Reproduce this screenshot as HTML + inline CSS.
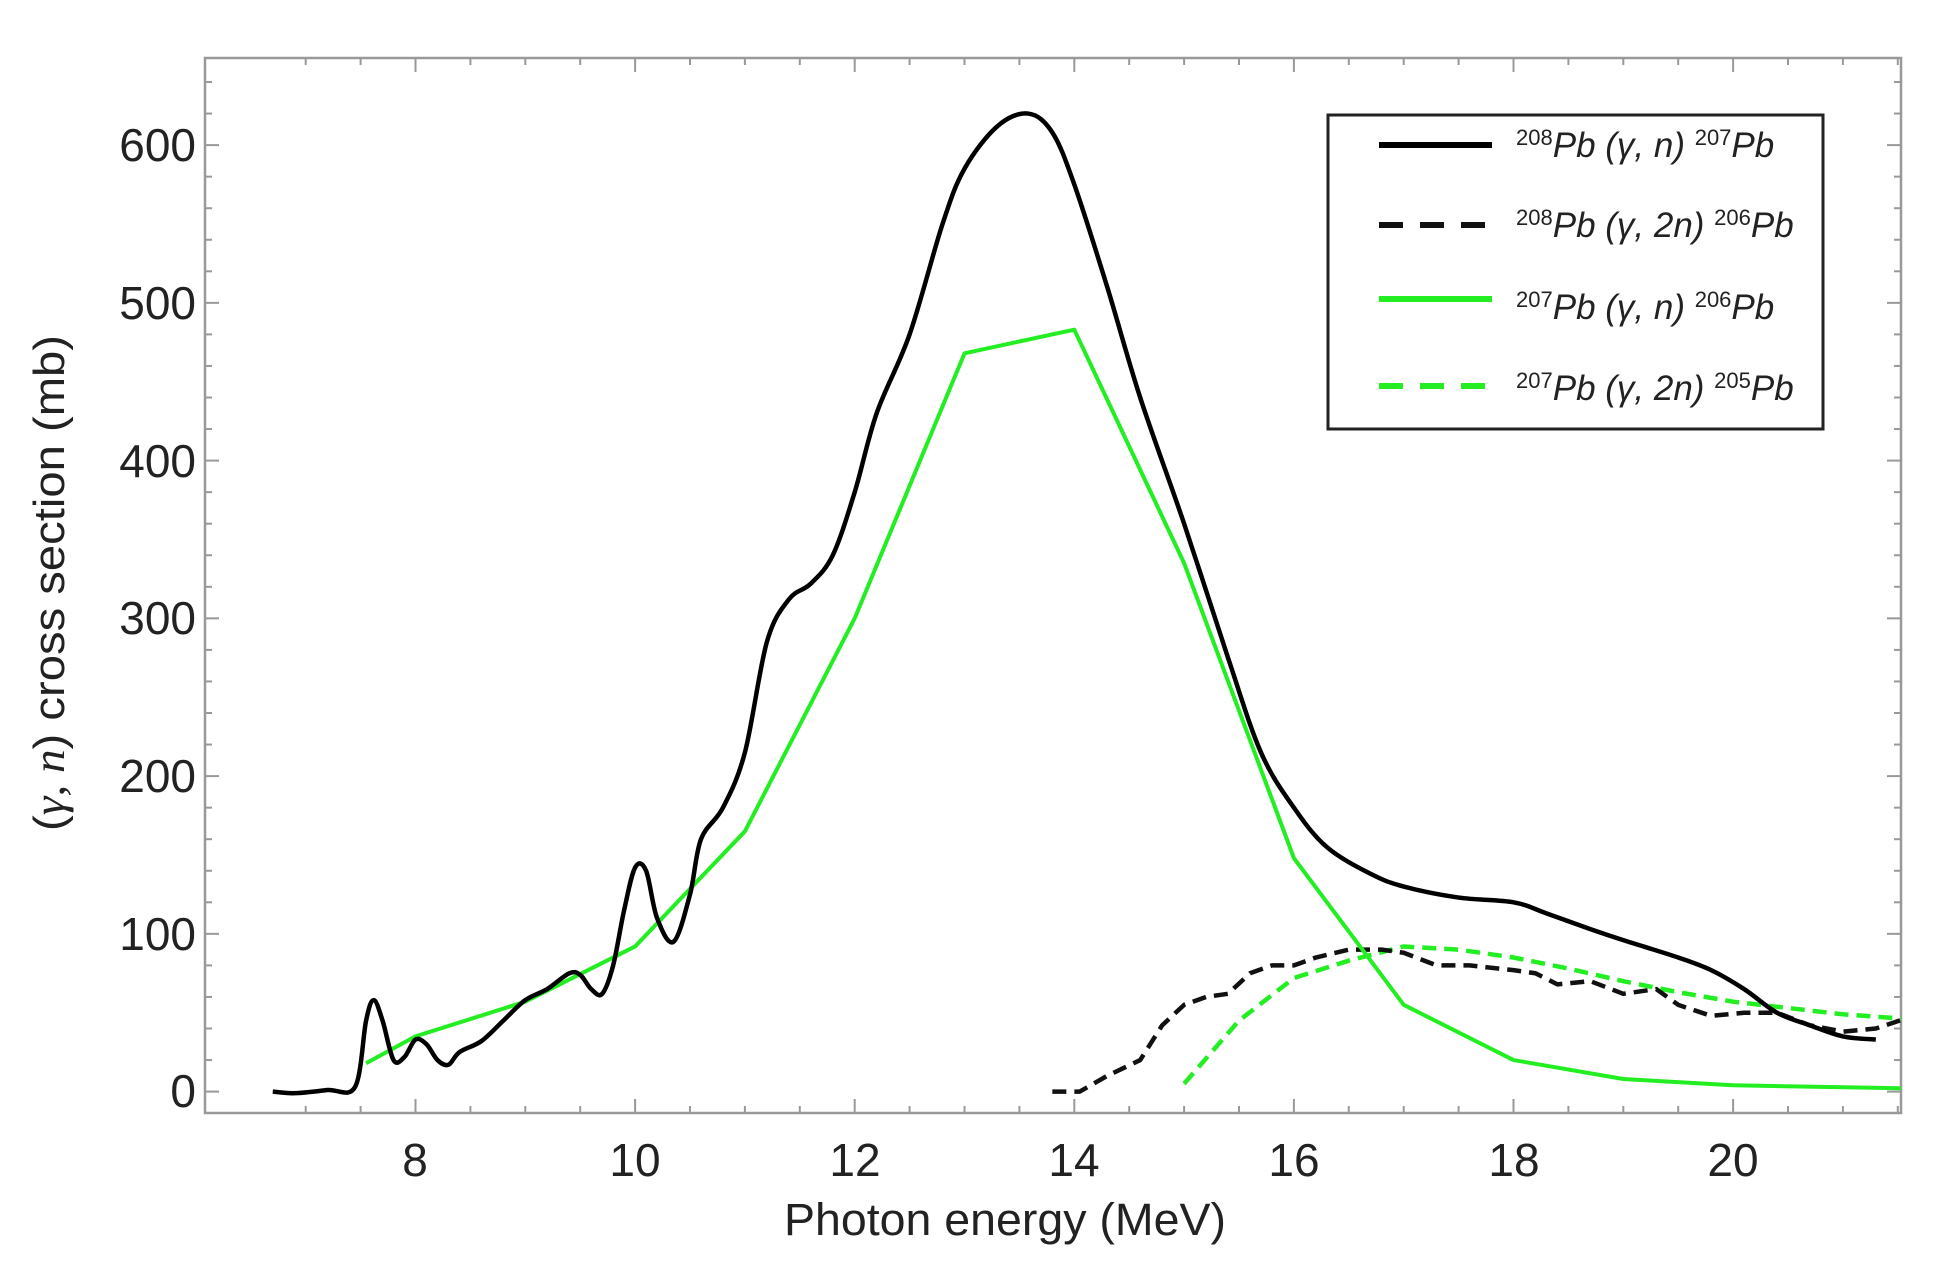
<!DOCTYPE html>
<html><head><meta charset="utf-8"><style>
body{margin:0;background:#fff;}
svg text{font-family:"Liberation Sans",sans-serif;}
</style></head><body>
<svg id="s" width="1945" height="1271" xmlns="http://www.w3.org/2000/svg">
<defs><clipPath id="c"><rect x="205" y="58" width="1696" height="1055"/></clipPath></defs>
<rect x="205" y="58" width="1696" height="1055" fill="none" stroke="#999" stroke-width="2.5"/>
<g id="ticks" stroke="#999" stroke-width="2"></g>
<g font-size="46" text-anchor="end" fill="#222">
<text x="196" y="1107">0</text><text x="196" y="950">100</text><text x="196" y="792">200</text>
<text x="196" y="634">300</text><text x="196" y="477">400</text><text x="196" y="319">500</text><text x="196" y="161">600</text>
</g>
<g font-size="46" text-anchor="middle" fill="#222">
<text x="415" y="1176">8</text><text x="635" y="1176">10</text><text x="855" y="1176">12</text>
<text x="1074" y="1176">14</text><text x="1294" y="1176">16</text><text x="1514" y="1176">18</text><text x="1733" y="1176">20</text>
</g>
<text x="1005" y="1235" font-size="45" text-anchor="middle" fill="#222" textLength="442" lengthAdjust="spacingAndGlyphs">Photon energy (MeV)</text>
<text transform="translate(64,583) rotate(-90)" font-size="44" text-anchor="middle" fill="#222" textLength="496" lengthAdjust="spacingAndGlyphs">(<tspan font-family="Liberation Serif" font-style="italic">γ, n</tspan>) cross section (mb)</text>
<g id="data" clip-path="url(#c)" fill="none"></g>
<rect x="1328" y="115" width="495" height="314" fill="#fff" stroke="#222" stroke-width="3"/>
<g stroke-width="6">
<line x1="1379" y1="145" x2="1492" y2="145" stroke="#000"/>
<line x1="1379" y1="225" x2="1492" y2="225" stroke="#111" stroke-dasharray="24,17"/>
<line x1="1379" y1="299" x2="1492" y2="299" stroke="#22ee22"/>
<line x1="1379" y1="386" x2="1492" y2="386" stroke="#22ee22" stroke-dasharray="24,17"/>
</g>
<g font-family="Liberation Serif" font-size="35" fill="#222" font-style="italic">
<text x="1516" y="157"><tspan font-size="22" dy="-12" font-style="normal">208</tspan><tspan dy="12">Pb (γ, n) </tspan><tspan font-size="22" dy="-12" font-style="normal">207</tspan><tspan dy="12">Pb</tspan></text>
<text x="1516" y="237"><tspan font-size="22" dy="-12" font-style="normal">208</tspan><tspan dy="12">Pb (γ, 2n) </tspan><tspan font-size="22" dy="-12" font-style="normal">206</tspan><tspan dy="12">Pb</tspan></text>
<text x="1516" y="319"><tspan font-size="22" dy="-12" font-style="normal">207</tspan><tspan dy="12">Pb (γ, n) </tspan><tspan font-size="22" dy="-12" font-style="normal">206</tspan><tspan dy="12">Pb</tspan></text>
<text x="1516" y="400"><tspan font-size="22" dy="-12" font-style="normal">207</tspan><tspan dy="12">Pb (γ, 2n) </tspan><tspan font-size="22" dy="-12" font-style="normal">205</tspan><tspan dy="12">Pb</tspan></text>
</g>
</svg>
<script>
var X=function(e){return 415.5+(e-8)*109.8},Y=function(v){return 1091.6-v*1.5775};
var NS="http://www.w3.org/2000/svg";
function smooth(d){var p=d.map(function(a){return [X(a[0]),Y(a[1])]});var s="M"+p[0];
for(var i=0;i<p.length-1;i++){var p0=p[i-1]||p[i],p1=p[i],p2=p[i+1],p3=p[i+2]||p2;
s+=" C"+(p1[0]+(p2[0]-p0[0])/6)+","+(p1[1]+(p2[1]-p0[1])/6)+" "+(p2[0]-(p3[0]-p1[0])/6)+","+(p2[1]-(p3[1]-p1[1])/6)+" "+p2;}return s;}
function poly(d){return "M"+d.map(function(a){return X(a[0])+","+Y(a[1])}).join(" L");}
function add(dp,col,w,dash){var e=document.createElementNS(NS,"path");e.setAttribute("d",dp);e.setAttribute("stroke",col);e.setAttribute("stroke-width",w);e.setAttribute("stroke-linejoin","round");if(dash)e.setAttribute("stroke-dasharray",dash);document.getElementById("data").appendChild(e);}
var bk=[[6.7,0],[6.9,-1],[7.2,1],[7.45,3],[7.55,45],[7.62,58],[7.7,45],[7.8,20],[7.9,22],[8.0,33],[8.1,30],[8.2,20],[8.3,17],[8.4,25],[8.6,32],[8.8,45],[9.0,58],[9.2,65],[9.4,75],[9.5,74],[9.6,65],[9.7,62],[9.8,80],[9.9,115],[10.0,142],[10.1,140],[10.2,110],[10.35,95],[10.5,125],[10.6,160],[10.8,180],[11.0,215],[11.2,285],[11.4,312],[11.6,322],[11.8,340],[12.0,380],[12.2,430],[12.5,480],[12.8,550],[13.0,585],[13.3,612],[13.58,620],[13.8,608],[14.0,575],[14.3,510],[14.6,440],[15.0,360],[15.4,275],[15.7,215],[16.0,180],[16.3,155],[16.7,138],[17.0,130],[17.5,123],[18.0,120],[18.3,113],[18.7,103],[19.0,96],[19.5,85],[19.8,77],[20.1,65],[20.4,50],[20.7,42],[21.0,35],[21.3,33]];
var gs=[[7.55,18],[8.0,35],[9.0,57],[10,92],[11,165],[12,300],[13,468],[14,483],[15,335],[16,148],[17,55],[18,20],[19,8],[20,4],[21.6,2]];
var bd=[[13.8,0],[14.05,0],[14.3,10],[14.6,20],[14.8,42],[15.0,55],[15.2,60],[15.4,62],[15.6,75],[15.8,80],[16.0,80],[16.2,85],[16.5,90],[16.8,90],[17.0,88],[17.3,80],[17.6,80],[18.0,77],[18.2,75],[18.4,68],[18.7,70],[19.0,62],[19.3,65],[19.5,55],[19.8,48],[20.1,50],[20.4,50],[20.7,42],[21.0,38],[21.3,40],[21.6,47]];
var gd=[[15.0,5],[15.5,45],[16.0,72],[16.5,83],[17.0,92],[17.5,90],[18.0,85],[18.5,78],[19.0,70],[19.5,63],[20.0,57],[20.5,53],[21.0,49],[21.6,46]];
add(poly(gd),"#22ee22",4.5,"14,8");
add(poly(bd),"#111",4.5,"14,8");
add(poly(gs),"#22ee22",4);
add(smooth(bk),"#000",4.5);
var t=document.getElementById("ticks"),h="";
for(var e=7;e<=21.5;e+=0.5){var x=X(e),L=(e%2==0)?14:7;h+='<line x1="'+x+'" y1="1113" x2="'+x+'" y2="'+(1113-L)+'"/><line x1="'+x+'" y1="58" x2="'+x+'" y2="'+(58+L)+'"/>';}
for(var v=0;v<=640;v+=20){var y=Y(v),L=(v%100==0)?14:7;h+='<line x1="205" y1="'+y+'" x2="'+(205+L)+'" y2="'+y+'"/><line x1="1901" y1="'+y+'" x2="'+(1901-L)+'" y2="'+y+'"/>';}
t.innerHTML=h;
</script>
</body></html>
